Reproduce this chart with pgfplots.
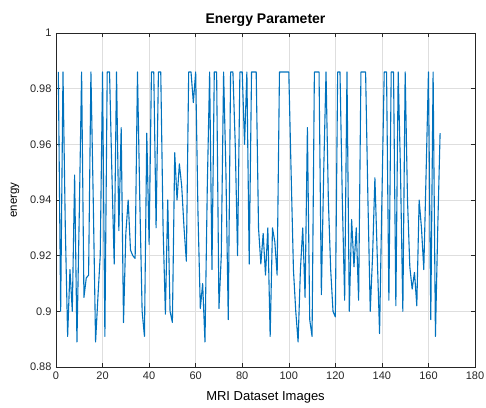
\documentclass[border=0pt]{standalone}
\usepackage{pgfplots}
\pgfplotsset{compat=1.18}
\usepackage{fontspec}
\setmainfont{Liberation Sans}
\definecolor{mblue}{rgb}{0,0.447,0.741}
\definecolor{mgrid}{rgb}{0.87,0.87,0.87}
\definecolor{maxis}{rgb}{0.15,0.15,0.15}

\pgfplotstableread{
x y
1 0.986
2 0.900
3 0.986
4 0.930
5 0.891
6 0.915
7 0.900
8 0.949
9 0.889
10 0.935
11 0.986
12 0.905
13 0.912
14 0.913
15 0.986
16 0.940
17 0.889
18 0.905
19 0.920
20 0.986
21 0.891
22 0.986
23 0.986
24 0.950
25 0.917
26 0.986
27 0.929
28 0.966
29 0.896
30 0.928
31 0.940
32 0.922
33 0.920
34 0.919
35 0.986
36 0.940
37 0.900
38 0.891
39 0.964
40 0.924
41 0.986
42 0.986
43 0.930
44 0.986
45 0.986
46 0.930
47 0.899
48 0.940
49 0.900
50 0.896
51 0.957
52 0.940
53 0.953
54 0.945
55 0.930
56 0.918
57 0.986
58 0.986
59 0.975
60 0.986
61 0.935
62 0.901
63 0.910
64 0.889
65 0.945
66 0.986
67 0.915
68 0.986
69 0.986
70 0.901
71 0.920
72 0.986
73 0.950
74 0.897
75 0.986
76 0.986
77 0.960
78 0.920
79 0.986
80 0.986
81 0.960
82 0.986
83 0.917
84 0.986
85 0.986
86 0.986
87 0.930
88 0.917
89 0.928
90 0.913
91 0.930
92 0.891
93 0.930
94 0.925
95 0.913
96 0.986
97 0.986
98 0.986
99 0.986
100 0.986
101 0.950
102 0.915
103 0.900
104 0.889
105 0.915
106 0.930
107 0.905
108 0.966
109 0.897
110 0.891
111 0.986
112 0.986
113 0.986
114 0.906
115 0.950
116 0.986
117 0.940
118 0.915
119 0.900
120 0.898
121 0.986
122 0.986
123 0.940
124 0.904
125 0.986
126 0.900
127 0.933
128 0.916
129 0.930
130 0.904
131 0.986
132 0.986
133 0.986
134 0.940
135 0.900
136 0.920
137 0.948
138 0.920
139 0.892
140 0.940
141 0.986
142 0.986
143 0.904
144 0.986
145 0.986
146 0.902
147 0.986
148 0.950
149 0.900
150 0.986
151 0.940
152 0.916
153 0.908
154 0.914
155 0.902
156 0.940
157 0.930
158 0.915
159 0.950
160 0.986
161 0.897
162 0.986
163 0.891
164 0.930
165 0.964
}\energydata

\begin{document}
\begin{tikzpicture}
\path[use as bounding box] (-56pt,-40pt) rectangle (430pt,367pt);
\begin{axis}[
  at={(0,0)}, anchor=south west,
  scale only axis,
  width=419pt, height=334pt,
  xmin=0, xmax=180, ymin=0.88, ymax=1,
  xtick={0,20,...,180},
  ytick={0.88,0.9,0.92,0.94,0.96,0.98,1},
  yticklabels={0.88,0.9,0.92,0.94,0.96,0.98,1},
  /pgf/number format/assume math mode=true,
  tick align=inside,
  tick pos=both,
  major tick length=4pt,
  tick style={maxis, line width=0.5pt},
  axis line style={maxis, line width=0.6pt},
  grid=major,
  major grid style={mgrid, line width=0.5pt},
  tick label style={font=\fontsize{11}{13}\selectfont, text=maxis},
  xticklabel style={yshift=-1pt},
  yticklabel style={xshift=-1pt},
  title={\bfseries Energy Parameter},
  title style={font=\fontsize{14}{16}\selectfont, yshift=-3pt},
  xlabel={MRI Dataset Images},
  ylabel={energy},
  label style={font=\fontsize{13}{15}\selectfont},
  xlabel style={yshift=-5pt},
  ylabel style={font=\fontsize{11.5}{13}\selectfont, yshift=4pt},
]
\addplot[mblue, line width=1.1pt, line join=round] table[x=x, y=y] {\energydata};
\end{axis}
\end{tikzpicture}
\end{document}
